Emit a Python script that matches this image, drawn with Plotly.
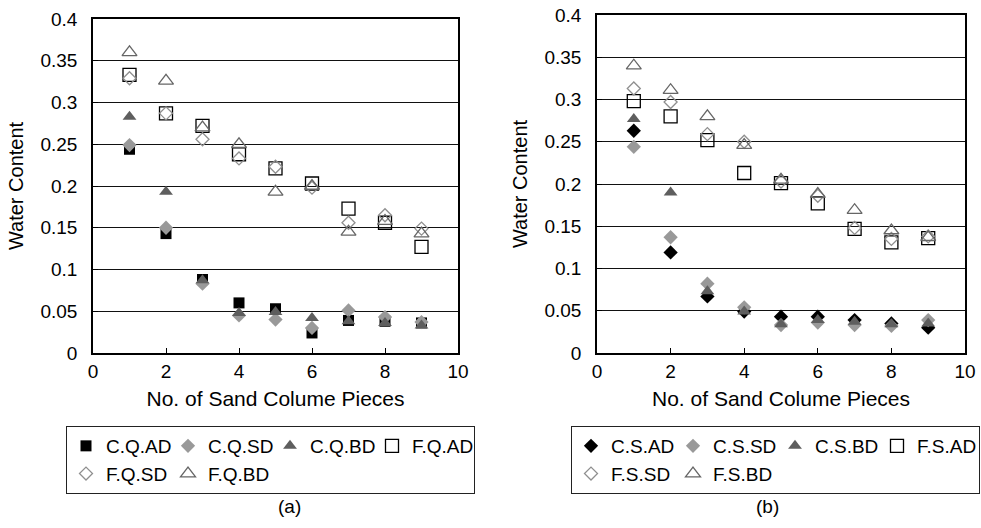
import plotly.graph_objects as go

# ---------------- data ----------------
pieces = [1, 2, 3, 4, 5, 6, 7, 8, 9]

names_a = ["C.Q.AD", "C.Q.SD", "C.Q.BD", "F.Q.AD", "F.Q.SD", "F.Q.BD"]
cq_ad = [0.244, 0.143, 0.088, 0.060, 0.053, 0.024, 0.039, 0.038, 0.036]
cq_sd = [0.249, 0.150, 0.083, 0.045, 0.040, 0.030, 0.051, 0.043, 0.037]
cq_bd = [0.283, 0.193, 0.087, 0.048, 0.049, 0.042, 0.038, 0.036, 0.033]
fq_ad = [0.333, 0.287, 0.272, 0.238, 0.221, 0.203, 0.173, 0.156, 0.127]
fq_sd = [0.329, 0.287, 0.256, 0.233, 0.223, 0.198, 0.156, 0.165, 0.149]
fq_bd = [0.360, 0.326, 0.270, 0.250, 0.193, 0.200, 0.145, 0.158, 0.143]

names_b = ["C.S.AD", "C.S.SD", "C.S.BD", "F.S.AD", "F.S.SD", "F.S.BD"]
cs_ad = [0.263, 0.119, 0.067, 0.049, 0.043, 0.043, 0.039, 0.035, 0.030]
cs_sd = [0.244, 0.137, 0.082, 0.054, 0.033, 0.036, 0.033, 0.032, 0.039]
cs_bd = [0.277, 0.190, 0.073, 0.049, 0.034, 0.039, 0.037, 0.034, 0.035]
fs_ad = [0.298, 0.280, 0.252, 0.213, 0.201, 0.177, 0.147, 0.131, 0.136]
fs_sd = [0.313, 0.297, 0.259, 0.250, 0.203, 0.186, 0.148, 0.135, 0.138]
fs_bd = [0.340, 0.311, 0.280, 0.246, 0.205, 0.188, 0.169, 0.145, 0.137]

x_title = "No. of Sand Colume Pieces"
y_title = "Water Content"
captions = ["(a)", "(b)"]

# ---------------- styles ----------------
FONT = "Liberation Sans, Arial, Helvetica, sans-serif"
symbols_a = ["square", "diamond", "triangle-up", "square-open", "diamond-open", "triangle-up-open"]
symbols_b = ["diamond", "diamond", "triangle-up", "square-open", "diamond-open", "triangle-up-open"]
colors = ["#000000", "#999999", "#5e5e5e", "#000000", "#8f8f8f", "#666666"]
sizes_a = [11, 11, 12, 13, 10, 13]
sizes_b = [11, 11, 12, 13, 10, 13]
groups = [1, 2, 3, 4, 1, 2]

fig = go.Figure()

series_a = [cq_ad, cq_sd, cq_bd, fq_ad, fq_sd, fq_bd]
series_b = [cs_ad, cs_sd, cs_bd, fs_ad, fs_sd, fs_bd]

for i, (nm, ys) in enumerate(zip(names_a, series_a)):
    fig.add_trace(go.Scatter(
        x=pieces, y=ys, name=nm, mode="markers",
        xaxis="x", yaxis="y", legend="legend",
        legendgroup="a%d" % groups[i],
        marker=dict(symbol=symbols_a[i], color=colors[i], size=sizes_a[i],
                    line=dict(width=1.3 if "open" in symbols_a[i] else 0, color=colors[i])),
    ))

for i, (nm, ys) in enumerate(zip(names_b, series_b)):
    fig.add_trace(go.Scatter(
        x=pieces, y=ys, name=nm, mode="markers",
        xaxis="x2", yaxis="y2", legend="legend2",
        legendgroup="b%d" % groups[i],
        marker=dict(symbol=symbols_b[i], color=colors[i], size=sizes_b[i],
                    line=dict(width=1.3 if "open" in symbols_b[i] else 0, color=colors[i])),
    ))

W, H = 981, 528

def xax(domain, anchor):
    return dict(domain=domain, anchor=anchor, range=[0, 10], dtick=2, tick0=0,
                showgrid=False, zeroline=False, showline=True, mirror=True,
                linecolor="#000", linewidth=1.5, ticks="inside", ticklen=5,
                tickcolor="#000", tickwidth=1,
                tickfont=dict(family=FONT, size=19, color="#000"),
                title=dict(text=x_title, font=dict(family=FONT, size=21, color="#000"), standoff=11))

def yax(domain, anchor):
    return dict(domain=domain, anchor=anchor, range=[0, 0.4], dtick=0.05, tick0=0,
                showgrid=True, gridcolor="#111", gridwidth=1, zeroline=False,
                showline=True, mirror=True, linecolor="#000", linewidth=1.5,
                ticks="inside", ticklen=5, tickcolor="#000",
                ticklabelstandoff=10,
                tickfont=dict(family=FONT, size=19, color="#000"),
                title=dict(text=y_title, font=dict(family=FONT, size=20, color="#000"), standoff=11))

legend_common = dict(orientation="h", xanchor="left", yanchor="top",
                     bordercolor="#222", borderwidth=1, bgcolor="rgba(255,255,255,0)",
                     font=dict(family=FONT, size=19, color="#000"),
                     entrywidth=57, entrywidthmode="pixels",
                     tracegroupgap=0, traceorder="grouped", itemclick=False)

fig.update_layout(
    width=W, height=H,
    margin=dict(l=0, r=0, t=0, b=0, autoexpand=False),
    paper_bgcolor="white", plot_bgcolor="white",
    xaxis=xax([93 / W, 458 / W], "y"),
    yaxis=yax([(H - 353) / H, (H - 19) / H], "x"),
    xaxis2=xax([597 / W, 965 / W], "y2"),
    yaxis2=yax([(H - 353) / H, (H - 15) / H], "x2"),
    legend=dict(x=66 / W, y=(H - 426) / H, **legend_common),
    legend2=dict(x=571 / W, y=(H - 426) / H, **legend_common),
    annotations=[
        dict(text=captions[0], x=275.5 / W, y=(H - 519) / H, xref="paper", yref="paper",
             showarrow=False, font=dict(family=FONT, size=19, color="#000")),
        dict(text=captions[1], x=781 / W, y=(H - 519) / H, xref="paper", yref="paper",
             showarrow=False, font=dict(family=FONT, size=19, color="#000")),
    ],
    showlegend=True,
)

fig.write_html("out.html")
